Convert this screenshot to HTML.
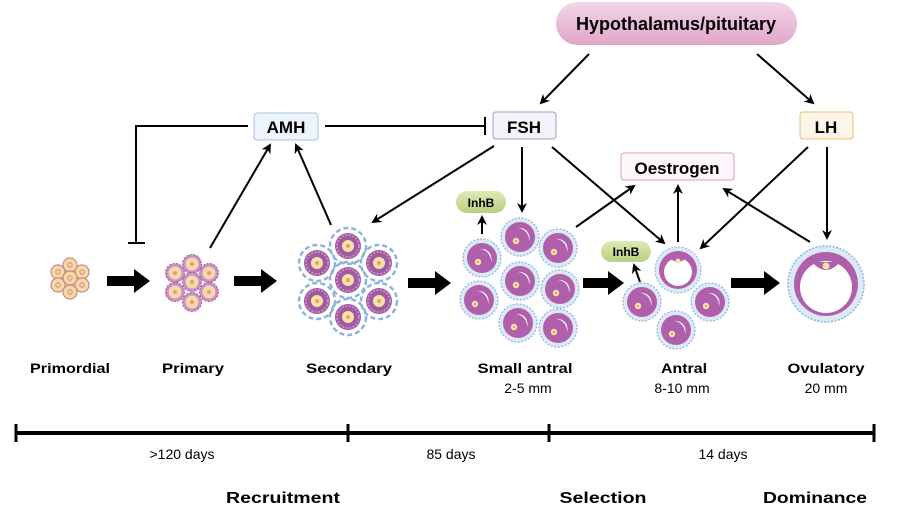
<!DOCTYPE html>
<html><head><meta charset="utf-8"><style>
html,body{margin:0;padding:0;background:#fff;}
svg{display:block;font-family:"Liberation Sans",Arial,sans-serif;}
.b{font-weight:bold;}
</style></head><body>
<svg width="924" height="524" viewBox="0 0 924 524" xmlns="http://www.w3.org/2000/svg">
<defs>
<marker id="ah" markerWidth="10" markerHeight="10" refX="8" refY="5" orient="auto" markerUnits="userSpaceOnUse"><path d="M0,0 L10,5 L0,10 L3,5 z" fill="#000"/></marker>
<linearGradient id="hp" x1="0" y1="0" x2="0" y2="1"><stop offset="0" stop-color="#f3d6e8"/><stop offset="1" stop-color="#e0a6c9"/></linearGradient>
<linearGradient id="inh" x1="0" y1="0" x2="0" y2="1"><stop offset="0" stop-color="#dfe9b8"/><stop offset="1" stop-color="#b9cf7e"/></linearGradient>
<g id="pf"><circle r="7" fill="#f7d9a6" stroke="#c98a86" stroke-width="1.2"/><circle r="2.2" fill="none" stroke="#c98a86"/></g>
<g id="pr"><circle r="9.5" fill="#c98fc6" stroke="#a060a0" stroke-dasharray="2 1.5"/><circle r="6.5" fill="#f7d9a6"/><circle r="2" fill="#d9a080"/></g>
<g id="sc"><circle r="18" fill="none" stroke="#8fb4dc" stroke-width="2.5" stroke-dasharray="5 3"/><circle r="13" fill="#a05aa0"/><circle r="11" fill="none" stroke="#c88ac8" stroke-width="2" stroke-dasharray="2 1.5"/><circle r="6" fill="#f8e2a8"/><circle r="2" fill="#e0a070"/></g>
<g id="sa"><circle r="19" fill="#dce9f6" stroke="#8fb4dc" stroke-width="1.2" stroke-dasharray="2 1.5"/><circle r="15" fill="#b060aa"/><path d="M-2,-9 A10,10 0 0 1 9,4 A12,12 0 0 0 -2,-9z" fill="#fff"/><circle cx="-4" cy="4" r="3.2" fill="#f8e2a8"/><circle cx="-4" cy="4" r="1" fill="#e08050"/></g>
</defs>

<rect x="556" y="2" width="241" height="43" rx="21.5" fill="url(#hp)"/>
<text x="676" y="30" class="b" font-size="18" text-anchor="middle">Hypothalamus/pituitary</text>
<rect x="254" y="113" width="64" height="27" rx="3" fill="#eef4fb" stroke="#a9c3e0"/>
<text x="286" y="133" class="b" font-size="17" text-anchor="middle">AMH</text>
<rect x="493" y="112" width="63" height="27" rx="3" fill="#f6f2fa" stroke="#a898c8"/>
<text x="524" y="133" class="b" font-size="17" text-anchor="middle">FSH</text>
<rect x="800" y="112" width="53" height="27" rx="3" fill="#fdf6e8" stroke="#e8c078"/>
<text x="826" y="133" class="b" font-size="17" text-anchor="middle">LH</text>
<rect x="621" y="153" width="113" height="27" rx="3" fill="#fdf7fb" stroke="#d89cc0"/>
<text x="677" y="174" class="b" font-size="17" text-anchor="middle">Oestrogen</text>
<rect x="456" y="191" width="50" height="22" rx="11" fill="url(#inh)"/>
<text x="481" y="207" class="b" font-size="12" text-anchor="middle">InhB</text>
<rect x="601" y="241" width="50" height="21" rx="10.5" fill="url(#inh)"/>
<text x="626" y="256" class="b" font-size="12" text-anchor="middle">InhB</text>

<g stroke="#000" stroke-width="2" fill="none">
<line x1="589" y1="54" x2="541" y2="103" marker-end="url(#ah)"/>
<line x1="757" y1="54" x2="813" y2="103" marker-end="url(#ah)"/>
<polyline points="248,126 136,126 136,243"/>
<line x1="128" y1="243" x2="145" y2="243"/>
<line x1="325" y1="126" x2="485" y2="126"/>
<line x1="485" y1="117" x2="485" y2="135"/>
<line x1="210" y1="248" x2="270" y2="145" marker-end="url(#ah)"/>
<line x1="331" y1="225" x2="296" y2="145" marker-end="url(#ah)"/>
<line x1="494" y1="146" x2="373" y2="222" marker-end="url(#ah)"/>
<line x1="522" y1="147" x2="522" y2="211" marker-end="url(#ah)"/>
<line x1="552" y1="147" x2="664" y2="243" marker-end="url(#ah)"/>
<line x1="576" y1="227" x2="634" y2="186" marker-end="url(#ah)"/>
<line x1="678" y1="242" x2="678" y2="186" marker-end="url(#ah)"/>
<line x1="810" y1="242" x2="724" y2="189" marker-end="url(#ah)"/>
<line x1="808" y1="147" x2="701" y2="248" marker-end="url(#ah)"/>
<line x1="827" y1="147" x2="827" y2="238" marker-end="url(#ah)"/>
<line x1="482" y1="234" x2="482" y2="217" marker-end="url(#ah)"/>
<line x1="640" y1="282" x2="634" y2="265" marker-end="url(#ah)"/>
</g>
<g fill="#000">
<path d="M107,276 v10 h27 v7 l16,-12 l-16,-12 v7 z"/>
<path d="M234,276 v10 h27 v7 l16,-12 l-16,-12 v7 z"/>
<path d="M408,278 v10 h27 v7 l16,-12 l-16,-12 v7 z"/>
<path d="M583,278 v10 h25 v7 l16,-12 l-16,-12 v7 z"/>
<path d="M731,278 v10 h33 v7 l16,-12 l-16,-12 v7 z"/>
</g>

<g transform="translate(70,278)">
<use href="#pf" x="0" y="-13"/><use href="#pf" x="-12" y="-6"/><use href="#pf" x="12" y="-6"/><use href="#pf" x="0" y="0"/><use href="#pf" x="-12" y="7"/><use href="#pf" x="12" y="7"/><use href="#pf" x="0" y="14"/>
</g>
<g transform="translate(192,282)">
<use href="#pr" x="0" y="-18"/><use href="#pr" x="-17" y="-9"/><use href="#pr" x="17" y="-9"/><use href="#pr" x="0" y="0"/><use href="#pr" x="-17" y="10"/><use href="#pr" x="17" y="10"/><use href="#pr" x="0" y="20"/>
</g>
<g transform="translate(348,280)">
<use href="#sc" x="0" y="-34"/><use href="#sc" x="-31" y="-17"/><use href="#sc" x="31" y="-17"/><use href="#sc" x="0" y="0"/><use href="#sc" x="-31" y="21"/><use href="#sc" x="31" y="21"/><use href="#sc" x="0" y="37"/>
</g>
<g>
<use href="#sa" x="482" y="258"/><use href="#sa" x="520" y="237"/><use href="#sa" x="558" y="248"/>
<use href="#sa" x="520" y="281"/><use href="#sa" x="560" y="289"/>
<use href="#sa" x="479" y="300"/><use href="#sa" x="518" y="323"/><use href="#sa" x="558" y="328"/>
</g>
<g>
<use href="#sa" x="642" y="302"/><use href="#sa" x="710" y="302"/><use href="#sa" x="676" y="330"/>
<circle cx="678" cy="270" r="23" fill="#dce9f6" stroke="#8fb4dc" stroke-dasharray="2 1.5"/>
<circle cx="678" cy="270" r="19" fill="#b060aa"/>
<circle cx="678" cy="272" r="14" fill="#fff"/>
<path d="M670,258 Q678,266 686,258 Z" fill="#b060aa"/>
<circle cx="678" cy="261" r="2.5" fill="#f8e2a8"/>
</g>
<g>
<circle cx="826" cy="284" r="38" fill="#dce9f6" stroke="#8fb4dc" stroke-width="1.5" stroke-dasharray="2 1.5"/>
<circle cx="826" cy="284" r="32" fill="#b060aa"/>
<circle cx="826" cy="287" r="26" fill="#fff"/>
<path d="M812,262 Q826,278 840,262 Z" fill="#b060aa"/>
<circle cx="826" cy="266" r="3.5" fill="#f8e2a8"/>
</g>

<g class="b" font-size="14" text-anchor="middle">
<text x="70" y="373" textLength="80" lengthAdjust="spacingAndGlyphs">Primordial</text>
<text x="193" y="373" textLength="62" lengthAdjust="spacingAndGlyphs">Primary</text>
<text x="349" y="373" textLength="86" lengthAdjust="spacingAndGlyphs">Secondary</text>
<text x="525" y="373" textLength="95" lengthAdjust="spacingAndGlyphs">Small antral</text>
<text x="684" y="373" textLength="46" lengthAdjust="spacingAndGlyphs">Antral</text>
<text x="826" y="373" textLength="77" lengthAdjust="spacingAndGlyphs">Ovulatory</text>
</g>
<g font-size="14" text-anchor="middle">
<text x="528" y="393">2-5 mm</text>
<text x="682" y="393">8-10 mm</text>
<text x="826" y="393">20 mm</text>
<text x="182" y="459">&gt;120 days</text>
<text x="451" y="459">85 days</text>
<text x="723" y="459">14 days</text>
</g>
<g stroke="#000" stroke-width="4">
<line x1="15" y1="433" x2="875" y2="433"/>
<line x1="16" y1="424" x2="16" y2="442" stroke-width="3"/>
<line x1="348" y1="424" x2="348" y2="442" stroke-width="3"/>
<line x1="549" y1="424" x2="549" y2="442" stroke-width="3"/>
<line x1="874" y1="424" x2="874" y2="442" stroke-width="3"/>
</g>
<g class="b" font-size="16" text-anchor="middle">
<text x="283" y="503" textLength="114" lengthAdjust="spacingAndGlyphs">Recruitment</text>
<text x="603" y="503" textLength="87" lengthAdjust="spacingAndGlyphs">Selection</text>
<text x="815" y="503" textLength="104" lengthAdjust="spacingAndGlyphs">Dominance</text>
</g>
</svg>
</body></html>
